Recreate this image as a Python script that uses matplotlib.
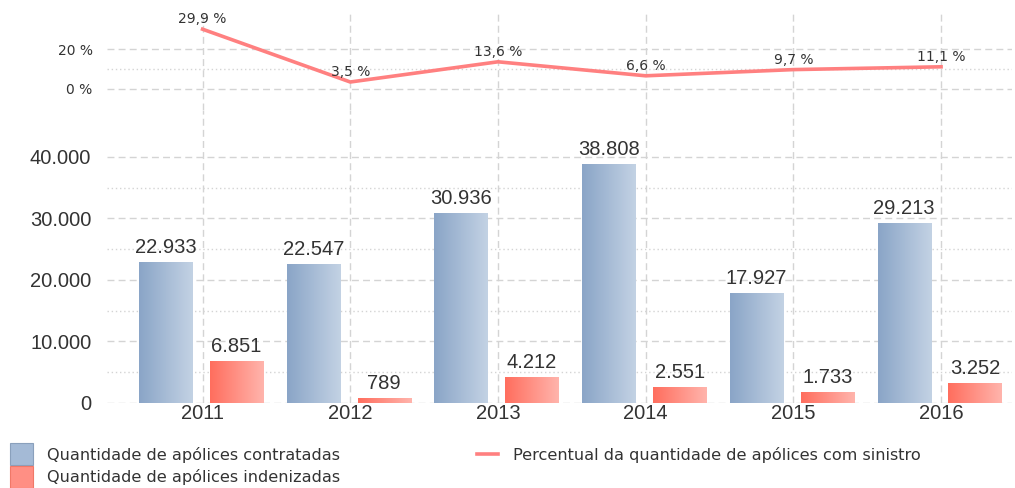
import matplotlib
matplotlib.use("Agg")
import matplotlib.pyplot as plt
import numpy as np
from matplotlib.colors import LinearSegmentedColormap
from matplotlib.patches import Rectangle
from matplotlib.lines import Line2D

anos = ["2011", "2012", "2013", "2014", "2015", "2016"]
contratadas = [22933, 22547, 30936, 38808, 17927, 29213]
indenizadas = [6851, 789, 4212, 2551, 1733, 3252]
percentual = [29.9, 3.5, 13.6, 6.6, 9.7, 11.1]

leg_contratadas = "Quantidade de apólices contratadas"
leg_indenizadas = "Quantidade de apólices indenizadas"
leg_percentual = "Percentual da quantidade de apólices com sinistro"

txt = "#333333"
grid_c = "#d4d4d4"
linha_c = "#ff8080"
cmap_azul = LinearSegmentedColormap.from_list("azul", ["#8aa5c7", "#c3d2e4"])
cmap_verm = LinearSegmentedColormap.from_list("verm", ["#ff6e5e", "#ffb4ac"])

def milhar(v):
    return f"{v:,.0f}".replace(",", ".")

fig = plt.figure(figsize=(10.15, 4.88), dpi=100)
x = np.arange(len(anos))
xl = (-0.65, 5.48)

# painel de cima: percentual
ax1 = fig.add_axes([0.105, 0.7746, 0.892, 0.2049])
ax1.set_xlim(*xl)
ax1.set_ylim(-10.5, 39.5)
for s in ax1.spines.values():
    s.set_visible(False)
for yv in [0, 20]:
    ax1.axhline(yv, color=grid_c, lw=1, ls=(0, (5, 3)), zorder=0)
ax1.axhline(10, color=grid_c, lw=1, ls=(0, (1, 2)), zorder=0)
for xv in x:
    ax1.axvline(xv, color=grid_c, lw=1, ls=(0, (5, 3)), ymax=0.99, zorder=0)
ax1.plot(x, percentual, color=linha_c, lw=2.6, zorder=3)
for xv, p in zip(x, percentual):
    ax1.annotate(f"{p:.1f} %".replace(".", ","), (xv, p), xytext=(0, 2),
                 textcoords="offset points", ha="center", va="bottom",
                 fontsize=10, color=txt, family="DejaVu Sans")
ax1.set_xticks([])
ax1.set_yticks([0, 20])
ax1.set_yticklabels(["0 %", "20 %"], fontsize=10, color=txt, family="DejaVu Sans")
ax1.tick_params(axis="y", length=0, pad=10)

# painel de baixo: barras
ax2 = fig.add_axes([0.105, 0.1742, 0.892, 0.6004])
ax2.set_xlim(*xl)
ax2.set_ylim(0, 47640)
for s in ax2.spines.values():
    s.set_visible(False)
for yv in range(0, 40001, 10000):
    ax2.axhline(yv, color=grid_c, lw=1, ls=(0, (5, 3)), zorder=0)
for yv in range(5000, 35001, 10000):
    ax2.axhline(yv, color=grid_c, lw=1, ls=(0, (1, 2)), zorder=0)
for xv in x:
    ax2.axvline(xv, color=grid_c, lw=1, ls=(0, (5, 3)), zorder=0)

w = 0.36
grad = np.linspace(0, 1, 64).reshape(1, -1)
for vals, off, cm in [(contratadas, -0.25, cmap_azul), (indenizadas, 0.23, cmap_verm)]:
    bars = ax2.bar(x + off, vals, width=w, color="none", edgecolor="none", zorder=2)
    for b, v in zip(bars, vals):
        x0, x1 = b.get_x(), b.get_x() + b.get_width()
        im = ax2.imshow(grad, cmap=cm, extent=[x0, x1, 0, v], aspect="auto", zorder=2)
        im.set_clip_path(b)
        ax2.annotate(milhar(v), (b.get_x() + b.get_width() / 2, v), xytext=(0, 3.5),
                     textcoords="offset points", ha="center", va="bottom",
                     fontsize=14.5, color=txt, family="Liberation Sans")
ax2.set_xlim(*xl)
ax2.set_ylim(0, 47640)
ax2.set_xticks(x)
ax2.set_xticklabels(anos, fontsize=14.5, color=txt, family="Liberation Sans")
ax2.set_yticks(range(0, 40001, 10000))
ax2.set_yticklabels([milhar(v) for v in range(0, 40001, 10000)],
                    fontsize=14.5, color=txt, family="Liberation Sans")
ax2.tick_params(axis="both", length=0)
ax2.tick_params(axis="y", pad=11)
ax2.tick_params(axis="x", pad=1)

# legenda
W, H = 1015, 488
def fx(px):
    return px / W
def fy(py):
    return 1 - py / H

fig.patches.append(Rectangle((fx(10), fy(465)), 23 / W, 22 / H, transform=fig.transFigure,
                             facecolor="#a4bad6", edgecolor="#8aa0bc", lw=0.8))
fig.patches.append(Rectangle((fx(10), fy(488)), 23 / W, 22 / H, transform=fig.transFigure,
                             facecolor="#ff8f84", edgecolor="#f07868", lw=0.8))
fig.text(fx(47), fy(455), leg_contratadas, fontsize=11.6, color=txt, va="center", family="DejaVu Sans")
fig.text(fx(47), fy(477), leg_indenizadas, fontsize=11.6, color=txt, va="center", family="DejaVu Sans")
fig.lines.append(Line2D([fx(477), fx(498)], [fy(454), fy(454)], transform=fig.transFigure,
                        color=linha_c, lw=2.6))
fig.text(fx(513), fy(455), leg_percentual, fontsize=11.6, color=txt, va="center", family="DejaVu Sans")

fig.savefig("out.png", dpi=100)
